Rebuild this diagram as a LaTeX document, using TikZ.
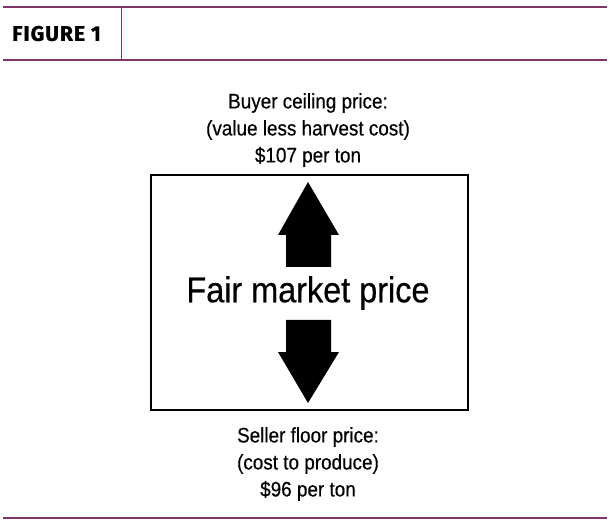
\documentclass[tikz,border=0pt]{standalone}
\usepackage{fontspec}
\setmainfont{Liberation Sans}[FakeStretch=0.9, FakeBold=0.4]
\newfontfamily\headfont{Fira Sans}[LetterSpace=5, BoldFeatures={FakeBold=1.4}]
\usetikzlibrary{positioning}
\definecolor{PL}{RGB}{128,52,108}
\definecolor{DG}{RGB}{0,0,0}

\begin{document}
\begin{tikzpicture}[x=1pt, y=-1pt,
  rule/.style={draw=PL, line width=2pt},
  label/.style={align=center, font=\fontsize{21}{27}\selectfont, inner sep=0pt},
  frame/.style={draw=DG, line width=1.8pt, minimum width=317pt, minimum height=235pt, inner sep=0pt},
  arrowfill/.style={fill=DG}
]
\useasboundingbox (0,0) rectangle (610,526);

% Header
\coordinate (hl) at (3,7);
\coordinate (hr) at (607,7);
\coordinate (sl) at (3,60);
\coordinate (sr) at (607,60);
\draw[rule] (hl)--(hr);
\draw[rule] (sl)--(sr);
\coordinate (vt) at (121,7);
\coordinate (vb) at (121,60);
\draw[draw=PL, line width=1pt] (vt)--(vb);
\node[font=\headfont\bfseries\fontsize{21}{24}\selectfont, anchor=west, inner sep=0pt] (fig) at (12,33.5) {FIGURE 1};

% Buyer ceiling
\node[label] (buyer) at (308,130)
  {Buyer ceiling price:\\(value less harvest cost)\\\$107 per ton};

% Central box
\node[frame] (box) at (309.5,292.5) {};
\node[font=\fontsize{36}{40}\selectfont, inner sep=0pt] (fair) at (308,293) {Fair market price};

% Up and down arrows
\fill[arrowfill] (308,182) -- (339,235) -- (331,235) -- (331,267)
  -- (286,267) -- (286,235) -- (278,235) -- cycle;
\fill[arrowfill] (308,403) -- (339,352) -- (331,352) -- (331,320)
  -- (286,320) -- (286,352) -- (278,352) -- cycle;

% Seller floor
\node[label] (seller) at (308,464)
  {Seller floor price:\\(cost to produce)\\\$96 per ton};

% Footer
\coordinate (fl) at (3,518);
\coordinate (fr) at (607,518);
\draw[rule] (fl)--(fr);
\end{tikzpicture}
\end{document}
